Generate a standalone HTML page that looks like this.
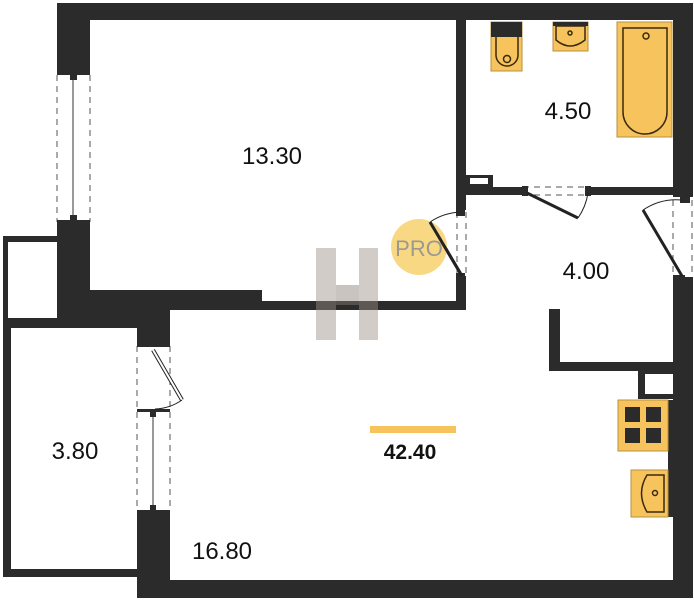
<!DOCTYPE html>
<html><head><meta charset="utf-8"><style>
html,body{margin:0;padding:0;background:#fff;}
svg{display:block;}
text{font-family:"Liberation Sans",sans-serif;}
</style></head><body>
<svg width="694" height="600" viewBox="0 0 694 600">
<g fill="#2b2b2b">
<rect x="57" y="3" width="636" height="17"/>
<rect x="57" y="3" width="33" height="70"/>
<rect x="57" y="222" width="33" height="103"/>
<rect x="57" y="290" width="205" height="20"/>
<rect x="57" y="305" width="113" height="20"/>
<rect x="262" y="301" width="204" height="9"/>
<rect x="137" y="290" width="33" height="55"/>
<rect x="456" y="20" width="10" height="190"/>
<rect x="456" y="276" width="10" height="34"/>
<rect x="466" y="187" width="57" height="8"/>
<rect x="590" y="187" width="83" height="8"/>
<rect x="466" y="175" width="27" height="12"/>
<rect x="673" y="3" width="20" height="194"/>
<rect x="673" y="277" width="20" height="321"/>
<rect x="137" y="510" width="33" height="88"/>
<rect x="137" y="580" width="556" height="18"/>
<rect x="549" y="309" width="11" height="62"/>
<rect x="549" y="362" width="124" height="9"/>
<rect x="638" y="371" width="35" height="28"/>
<rect x="3" y="318" width="134" height="10"/>
<rect x="3" y="318" width="8" height="259"/>
<rect x="3" y="569" width="134" height="8"/>
<rect x="3" y="236" width="54" height="6"/>
<rect x="3" y="236" width="5" height="86"/>
<rect x="668" y="400" width="5" height="117"/>
</g>
<rect x="645" y="374" width="28" height="20" fill="#fff"/>
<rect x="470" y="178" width="18" height="6" fill="#fff"/>
<g stroke="#555" stroke-width="1" stroke-dasharray="6,5" fill="none">
<line x1="57" y1="75" x2="57" y2="222"/><line x1="90" y1="75" x2="90" y2="222"/>
<line x1="137" y1="346" x2="137" y2="510"/><line x1="170" y1="346" x2="170" y2="510"/>
<line x1="457" y1="212" x2="457" y2="276"/><line x1="466" y1="212" x2="466" y2="276"/>
<line x1="523" y1="187" x2="590" y2="187"/><line x1="523" y1="195" x2="590" y2="195"/>
<line x1="673" y1="200" x2="673" y2="276"/><line x1="692" y1="200" x2="692" y2="276"/>
</g>
<g fill="#2b2b2b">
<rect x="57" y="71" width="33" height="4"/><rect x="57" y="220" width="33" height="4"/>
<rect x="70" y="75" width="7" height="5"/><rect x="70" y="215" width="7" height="5"/>
<rect x="137" y="344" width="33" height="3"/><rect x="137" y="409" width="33" height="3"/>
<rect x="150" y="412" width="6" height="5"/><rect x="150" y="505" width="6" height="5"/>
<rect x="456" y="210" width="9" height="6"/><rect x="456" y="273" width="9" height="6"/>
<rect x="522" y="186" width="6" height="10"/><rect x="585" y="186" width="6" height="10"/>
<rect x="680" y="197" width="10" height="6"/><rect x="673" y="275" width="12" height="5"/>
</g>
<line x1="73" y1="80" x2="73" y2="215" stroke="#333" stroke-width="1"/>
<line x1="153" y1="417" x2="153" y2="505" stroke="#333" stroke-width="1"/>
<g stroke="#222" fill="none">
<line x1="430" y1="222" x2="462" y2="276" stroke-width="3"/>
<path d="M430 222 A60 60 0 0 1 460 212" stroke-width="1"/>
<line x1="527" y1="193" x2="578" y2="218" stroke-width="3"/>
<path d="M578 218 A60 60 0 0 0 588 193" stroke-width="1"/>
<line x1="643" y1="210" x2="682" y2="276" stroke-width="3"/>
<path d="M643 210 A60 60 0 0 1 682 200" stroke-width="1"/>
<line x1="153" y1="350" x2="182" y2="400" stroke-width="4"/>
<line x1="153" y1="350" x2="182" y2="400" stroke="#fff" stroke-width="2"/>
<path d="M182 400 A50 50 0 0 1 155 409" stroke-width="1"/>
</g>
<g stroke="#b8913e" stroke-width="1" fill="#f6c35c">
<rect x="491" y="22" width="31" height="49"/>
<rect x="553" y="22" width="35" height="29"/>
<rect x="617" y="22" width="55" height="115"/>
<rect x="618" y="400" width="50" height="51"/>
<rect x="631" y="470" width="37" height="47"/>
</g>
<rect x="491" y="22" width="31" height="15" fill="#2b2b2b"/>
<rect x="553" y="22" width="35" height="4" fill="#2b2b2b"/>
<g stroke="#3a2a10" stroke-width="1.5" fill="none">
<path d="M496 37 V55 A10 10 0 0 0 518 55 V37"/><circle cx="507" cy="59" r="3.5"/>
<path d="M556 26 V40 Q570 52 585 40 V26 Z"/><circle cx="570" cy="33" r="2"/>
<path d="M623 28 H667 V112 A22 22 0 0 1 623 112 Z"/><circle cx="646" cy="36" r="3"/>
<path d="M664 475 H647 Q636 493 647 512 H664 Z"/><circle cx="655" cy="493" r="2.5"/>
</g>
<g fill="#2b2b2b">
<rect x="625" y="407" width="15" height="15"/><rect x="646" y="407" width="15" height="15"/>
<rect x="625" y="428" width="15" height="15"/><rect x="646" y="428" width="15" height="15"/>
</g>
<g opacity="0.45">
<rect x="316" y="248" width="20" height="92" fill="#9c8f86"/>
<rect x="359" y="248" width="19" height="92" fill="#9c8f86"/>
<rect x="336" y="285" width="23" height="20" fill="#8a7d74"/>
</g>
<circle cx="419" cy="247" r="28" fill="#f7d476" opacity="0.9"/>
<text x="419" y="256" font-size="22" fill="#9a9a8e" text-anchor="middle">PRO</text>
<line x1="430" y1="222" x2="462" y2="276" stroke="#222" stroke-width="3"/>
<g font-size="24" fill="#111" text-anchor="middle">
<text x="272" y="164">13.30</text>
<text x="568" y="119">4.50</text>
<text x="586" y="279">4.00</text>
<text x="75" y="459">3.80</text>
<text x="222" y="559">16.80</text>
</g>
<rect x="370" y="426" width="86" height="7" fill="#f6c35c"/>
<text x="410" y="459" font-size="21" font-weight="bold" fill="#111" text-anchor="middle">42.40</text>
</svg>
</body></html>
